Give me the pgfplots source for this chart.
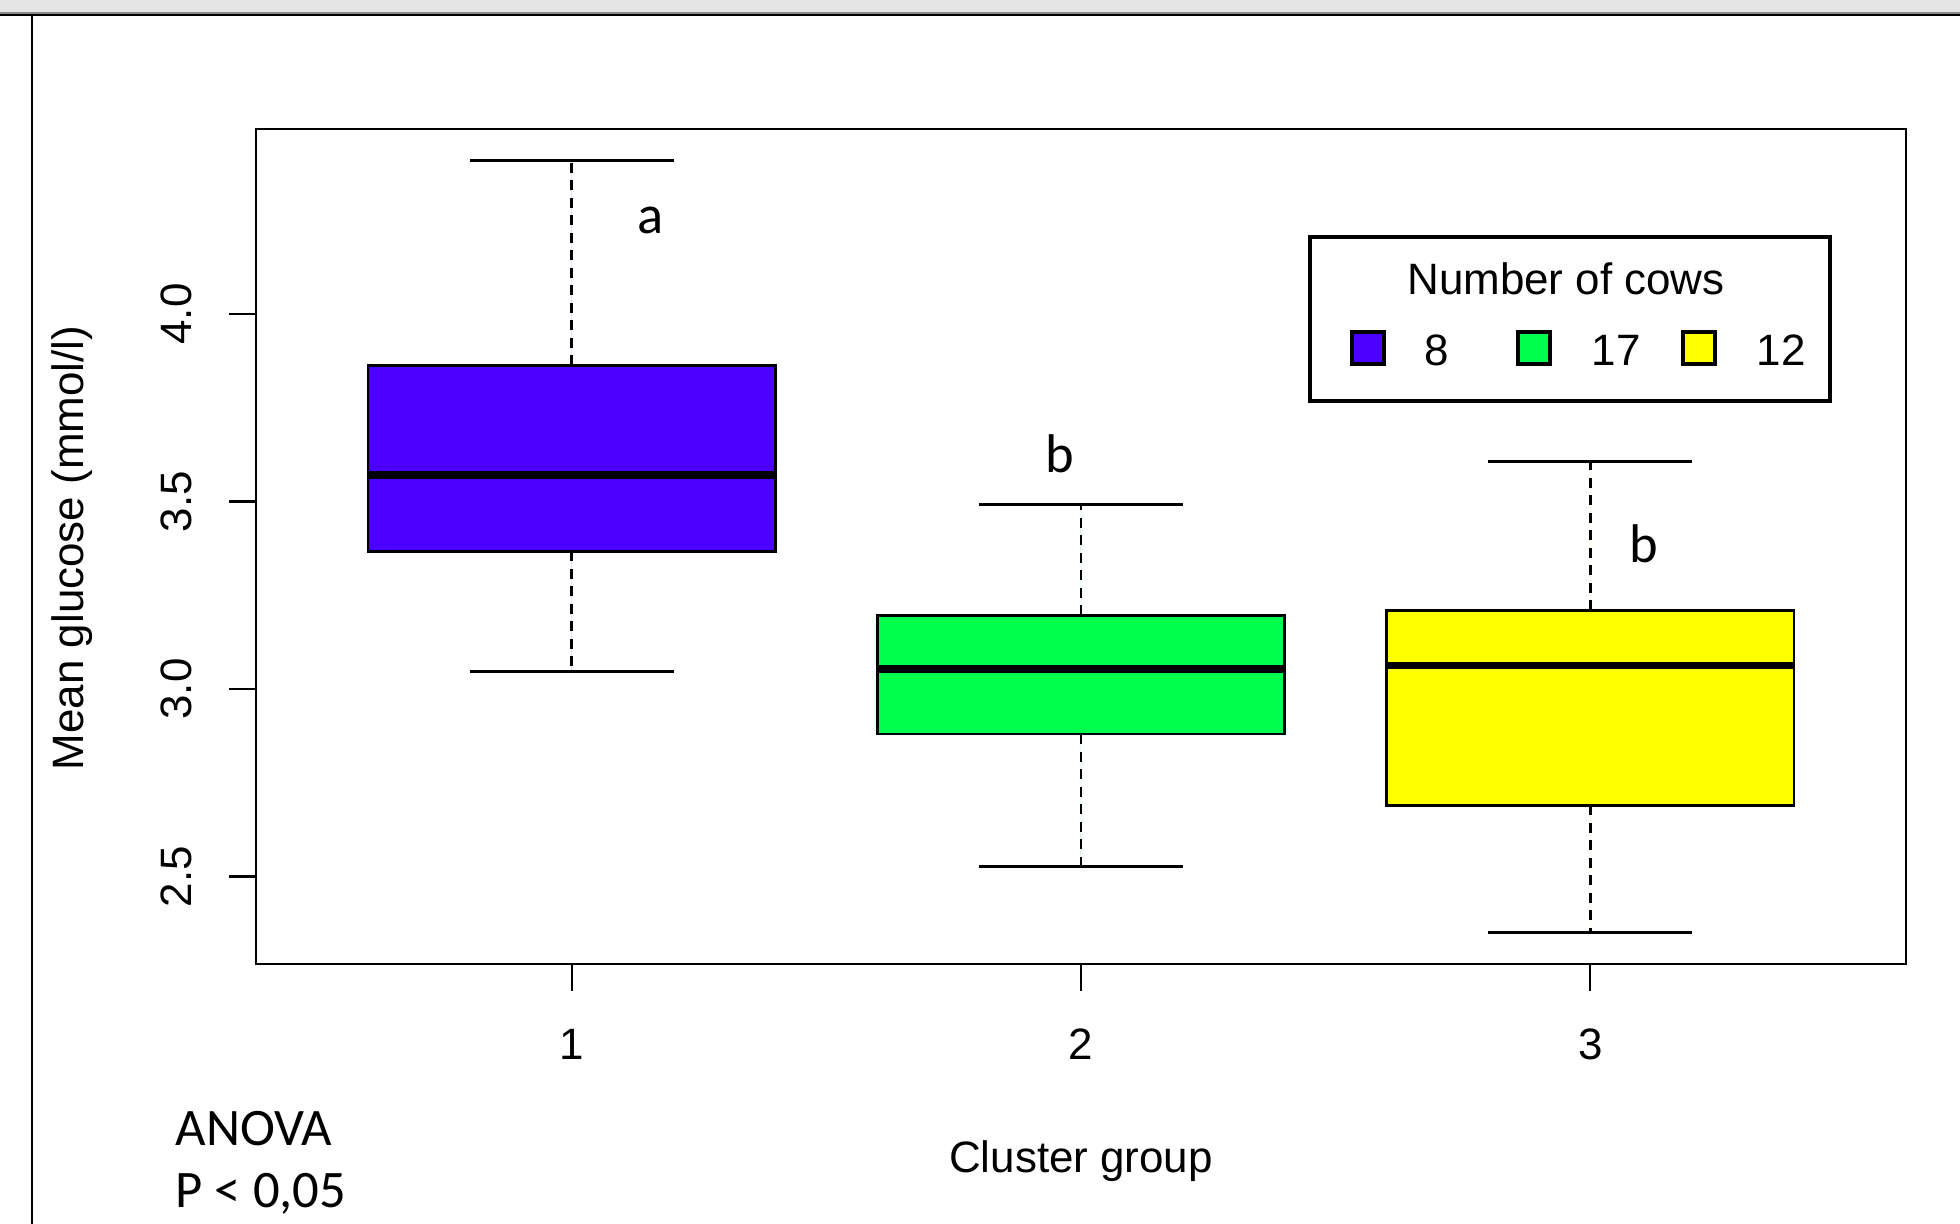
\documentclass[border=0pt]{standalone}
\usepackage{fontspec}
\setmainfont{Liberation Sans}
\newfontfamily\cfont{Carlito}
\usepackage{pgfplots}
\pgfplotsset{compat=1.18}
\usepgfplotslibrary{statistics}
\definecolor{cblue}{HTML}{4C00FF}
\definecolor{cgreen}{HTML}{00FF4D}
\definecolor{cyellow}{HTML}{FFFF00}
\newcommand{\rsize}{\fontsize{12.5}{15}\selectfont}
\pgfplotsset{
  rbox/.style={
    draw=black, line width=0.8pt,
    boxplot/draw direction=y,
    boxplot/box extend=0.8,
    boxplot/whisker extend=0.4,
    boxplot/every median/.style={line width=2.2pt},
    boxplot/draw/lower whisker/.code={%
      \draw[dash pattern=on 1mm off 0.75mm]
        (boxplot box cs:\pgfplotsboxplotvalue{lower quartile},0.5) --
        (boxplot box cs:\pgfplotsboxplotvalue{lower whisker},0.5);
      \draw (boxplot whisker cs:\pgfplotsboxplotvalue{lower whisker},0) --
        (boxplot whisker cs:\pgfplotsboxplotvalue{lower whisker},1);
    },
    boxplot/draw/upper whisker/.code={%
      \draw[dash pattern=on 1mm off 0.75mm]
        (boxplot box cs:\pgfplotsboxplotvalue{upper quartile},0.5) --
        (boxplot box cs:\pgfplotsboxplotvalue{upper whisker},0.5);
      \draw (boxplot whisker cs:\pgfplotsboxplotvalue{upper whisker},0) --
        (boxplot whisker cs:\pgfplotsboxplotvalue{upper whisker},1);
    },
  }
}
\begin{document}
\begin{tikzpicture}
\begin{scope}[x=0.1mm,y=-0.1mm]
\path[use as bounding box, fill=white] (0,0) rectangle (1960,1224);
\fill[black!10] (0,0) rectangle (1960,13);
\draw[black!45, line width=0.25mm] (0,13) -- (1960,13);
\draw[black, line width=0.2mm] (0,14.8) -- (1960,14.8);
\draw[black, line width=0.17mm] (32,14) -- (32,1224);
\end{scope}
\begin{axis}[
  at={(25.6mm,-96.4mm)}, anchor=south west,
  scale only axis, width=165mm, height=83.5mm,
  xmin=0.38, xmax=3.62, ymin=2.267, ymax=4.493,
  axis line style={line width=0.6pt},
  xtick={1,2,3}, ytick={2.5,3,3.5,4},
  xticklabels={1,2,3},
  yticklabels={2.5,3.0,3.5,4.0},
  tick align=outside, major tick length=2.7mm,
  every tick/.style={black, line width=0.7pt},
  xtick pos=bottom, ytick pos=left,
  tick label style={font=\rsize},
  xticklabel style={anchor=base, yshift=-6.9mm},
  yticklabel style={anchor=base, rotate=90},
  yticklabel shift=3.75mm,
  clip=false,
]
\addplot[rbox, fill=cblue, boxplot prepared={draw position=1,
  lower whisker=3.047, lower quartile=3.367, median=3.57,
  upper quartile=3.863, upper whisker=4.41}] coordinates {};
\addplot[rbox, fill=cgreen, boxplot prepared={draw position=2,
  lower whisker=2.527, lower quartile=2.88, median=3.053,
  upper quartile=3.197, upper whisker=3.493}] coordinates {};
\addplot[rbox, fill=cyellow, boxplot prepared={draw position=3,
  lower whisker=2.35, lower quartile=2.69, median=3.063,
  upper quartile=3.21, upper whisker=3.607}] coordinates {};
\node[font=\cfont\fontsize{15.5}{18}\selectfont] at (axis cs:1.155,4.25) {a};
\node[font=\cfont\fontsize{15.5}{18}\selectfont] at (axis cs:1.959,3.627) {b};
\node[font=\cfont\fontsize{15.5}{18}\selectfont] at (axis cs:3.106,3.387) {b};
\end{axis}
\begin{scope}[x=0.1mm,y=-0.1mm]
\draw[line width=0.9pt] (1310,237) rectangle (1830,401);
\node[font=\rsize] at (1566,279) {Number of cows};
\draw[line width=0.9pt, fill=cblue] (1352,332) rectangle (1384,364);
\draw[line width=0.9pt, fill=cgreen] (1518,332) rectangle (1550,364);
\draw[line width=0.9pt, fill=cyellow] (1683,332) rectangle (1715,364);
\node[font=\rsize] at (1437,350) {8};
\node[font=\rsize] at (1616,350) {17};
\node[font=\rsize] at (1781,350) {12};
\node[font=\rsize, anchor=base] at (1081,1173) {Cluster group};
\node[font=\rsize, anchor=base, rotate=90] at (83,548) {Mean glucose (mmol/l)};
\node[font=\cfont\fontsize{15}{18}\selectfont, anchor=base west, inner sep=0pt] at (175,1146) {ANOVA};
\node[font=\cfont\fontsize{15}{18}\selectfont, anchor=base west, inner sep=0pt] at (175,1208) {P < 0,05};
\end{scope}
\end{tikzpicture}
\end{document}
